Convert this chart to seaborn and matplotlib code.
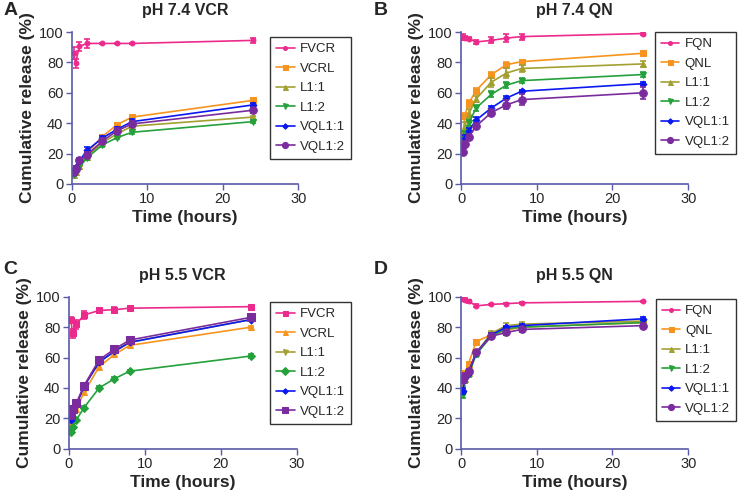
import numpy as np
import pandas as pd
import matplotlib
matplotlib.use("Agg")
import matplotlib.pyplot as plt
import seaborn as sns

# ---------- DATA ----------
time_h = [0.25, 0.5, 1, 2, 4, 6, 8, 24]

names_vcr = ["FVCR", "VCRL", "L1:1", "L1:2", "VQL1:1", "VQL1:2"]
names_qn = ["FQN", "QNL", "L1:1", "L1:2", "VQL1:1", "VQL1:2"]

# panel A: pH 7.4 VCR
a_fvcr = [86, 79.5, 90.5, 92.5, 92.5, 92.5, 92.5, 94.5]
a_vcrl = [8, 10, 14, 20, 31, 39, 44, 55]
a_l11 = [6, 8, 12, 18, 27, 33, 38, 44]
a_l12 = [6, 8, 11, 17, 25.5, 30.5, 34, 41]
a_vql11 = [9, 11, 15, 22, 30, 36, 41, 52]
a_vql12 = [8, 10, 15.5, 19, 28, 35, 39.5, 48.5]
a_err = [[4, 3, 3, 3, 0.5, 0.5, 0.5, 1.5],
         [1, 1, 1, 1.5, 1, 1, 1, 1],
         [1, 1, 1, 1.5, 1, 1, 1, 1],
         [1, 1, 1, 1, 1, 1, 1, 1],
         [1, 1, 1, 2, 1.5, 1.5, 1.5, 1],
         [1.5, 1.5, 1.5, 2, 2, 2, 2, 1.5]]

# panel B: pH 7.4 QN
b_fqn = [97, 96, 95.5, 93.5, 94.5, 96, 97, 99]
b_qnl = [32, 45, 53, 61.5, 72, 78.5, 80.5, 86]
b_l11 = [30, 38, 46, 56, 67, 73, 76, 79]
b_l12 = [25, 33, 40, 50, 59, 65, 68, 72]
b_vql11 = [24, 30, 35, 42, 50, 56.5, 61, 66]
b_vql12 = [21, 26, 31, 38, 47, 52, 55.5, 60]
b_err = [[2, 1.5, 1, 1.5, 2, 2.5, 2, 1],
         [3, 2, 2.5, 1.5, 1.5, 1.5, 1, 1],
         [3, 3, 3, 2, 3, 3, 2, 2],
         [2, 2, 2, 2, 2, 2, 1.5, 1.5],
         [2, 2, 2, 2, 1.5, 1.5, 1, 1],
         [2, 2, 2, 2, 2.5, 3, 3.5, 4]]

# panel C: pH 5.5 VCR
c_fvcr = [85, 76, 82, 88, 91, 91.5, 92.5, 93.5]
c_vcrl = [15, 19, 26, 37, 54, 62, 68, 80]
c_l11 = [20, 24, 29, 41, 57, 64, 70, 85]
c_l12 = [11, 14, 19, 27, 40, 46, 51, 61]
c_vql11 = [19, 24, 29, 41, 57, 64, 70, 85]
c_vql12 = [22, 26, 30, 41.5, 58.5, 65.5, 71.5, 86.5]
c_err = [[2, 3, 3, 2.5, 1.5, 1.5, 1, 0.5],
         [1, 1, 1, 1, 1, 1, 1, 0.5],
         [1, 1, 1, 1, 1, 1, 1, 1],
         [1, 1, 1, 1, 1, 1, 1, 1],
         [1, 1, 1, 1, 1, 1, 1, 1],
         [2, 2, 1.5, 1.5, 1.5, 1.5, 1, 1]]

# panel D: pH 5.5 QN
d_fqn = [98.5, 98, 97, 94, 95, 95.5, 96, 97]
d_qnl = [48, 50, 56, 70.5, 75, 78, 80, 83]
d_l11 = [40, 46, 50, 63, 76, 81, 82, 84]
d_l12 = [35, 45, 49, 62, 74, 79, 80, 83]
d_vql11 = [38, 47, 50, 63, 75, 80, 81, 85.5]
d_vql12 = [45, 48, 51, 63.5, 74, 76.5, 78.5, 81]
d_err = [[1, 1, 1, 1, 0.5, 0.5, 0.5, 0.5],
         [1, 1, 1, 1, 1, 1, 1, 1],
         [1.5, 1.5, 1.5, 1.5, 1.5, 1.5, 1.5, 1.5],
         [1.5, 1.5, 1.5, 1.5, 1, 1, 1, 1],
         [2, 1.5, 1.5, 1, 1, 1, 1, 1],
         [2, 2, 1.5, 1.5, 1.5, 1.5, 1.5, 1.5]]

colors = ["#ec2a8c", "#f7941d", "#a3a032", "#24a13a", "#0b18f0", "#7a2c9e"]

panels = [
    ("A", "pH 7.4 VCR", names_vcr, [a_fvcr, a_vcrl, a_l11, a_l12, a_vql11, a_vql12], a_err,
     ["o", "s", "^", "v", "D", "o"], [3.5, 4.5, 4.5, 4.5, 3.5, 5.5]),
    ("B", "pH 7.4 QN", names_qn, [b_fqn, b_qnl, b_l11, b_l12, b_vql11, b_vql12], b_err,
     ["o", "s", "^", "v", "D", "o"], [3.5, 4.5, 4.5, 4.5, 3.5, 5.5]),
    ("C", "pH 5.5 VCR", names_vcr, [c_fvcr, c_vcrl, c_l11, c_l12, c_vql11, c_vql12], c_err,
     ["s", "^", "v", "D", "D", "s"], [4.5, 4.5, 4.5, 4.5, 3.5, 6]),
    ("D", "pH 5.5 QN", names_qn, [d_fqn, d_qnl, d_l11, d_l12, d_vql11, d_vql12], d_err,
     ["o", "s", "^", "v", "D", "o"], [3.5, 4.5, 4.5, 4.5, 3.5, 5.5]),
]

# ---------- STYLE ----------
sns.set_style("ticks")
plt.rcParams["font.family"] = ["Liberation Sans", "DejaVu Sans"]

fig = plt.figure(figsize=(7.4, 4.93), dpi=100)

ax_rects = [[0.097, 0.627, 0.306, 0.308],
            [0.623, 0.627, 0.307, 0.308],
            [0.093, 0.090, 0.308, 0.308],
            [0.623, 0.090, 0.307, 0.308]]
leg_pos = [(0.365, 0.925), (0.885, 0.935), (0.365, 0.387), (0.886, 0.393)]
letter_pos = [(0.005, 0.995), (0.505, 0.995), (0.005, 0.47), (0.505, 0.47)]
spine_col = "#5a5aa8"

for i, (letter, title, names, series, errs, marks, msizes) in enumerate(panels):
    ax = fig.add_axes(ax_rects[i])
    for name, vals, err, col, mk, ms in zip(names, series, errs, colors, marks, msizes):
        df = pd.DataFrame({"t": time_h, "v": vals})
        ax.errorbar(time_h, vals, yerr=err, fmt="none", ecolor=col,
                    elinewidth=1.2, capsize=2.5, capthick=1.2)
        sns.lineplot(data=df, x="t", y="v", ax=ax, color=col, marker=mk,
                     markersize=ms, markeredgecolor=col, linewidth=1.2, label=name)
    ax.set_xlim(0, 30)
    ax.set_ylim(0, 100)
    ax.set_xticks([0, 10, 20, 30])
    ax.set_yticks([0, 20, 40, 60, 80, 100])
    ax.tick_params(labelsize=10.5, length=4, width=1, color=spine_col, pad=2)
    for s in ["top", "right"]:
        ax.spines[s].set_visible(False)
    for s in ["left", "bottom"]:
        ax.spines[s].set_color(spine_col)
        ax.spines[s].set_linewidth(1.2)
    ax.set_xlabel("Time (hours)", fontsize=12.5, fontweight="bold", labelpad=3)
    ax.set_ylabel("Cumulative release (%)", fontsize=12.5, fontweight="bold", labelpad=3)
    ax.set_title(title, fontsize=11.5, fontweight="bold", pad=12)
    leg = ax.legend(loc="upper left", bbox_to_anchor=leg_pos[i],
                    bbox_transform=fig.transFigure, fontsize=9.5,
                    frameon=True, fancybox=False, edgecolor="#333333",
                    framealpha=1, handlelength=1.4, handletextpad=0.4,
                    labelspacing=0.55, borderpad=0.45, borderaxespad=0,
                    markerscale=0.8)
    leg.get_frame().set_linewidth(1.0)
    fig.text(letter_pos[i][0], letter_pos[i][1], letter, fontsize=14,
             fontweight="bold", ha="left", va="top")

fig.savefig("out.png", dpi=100)
